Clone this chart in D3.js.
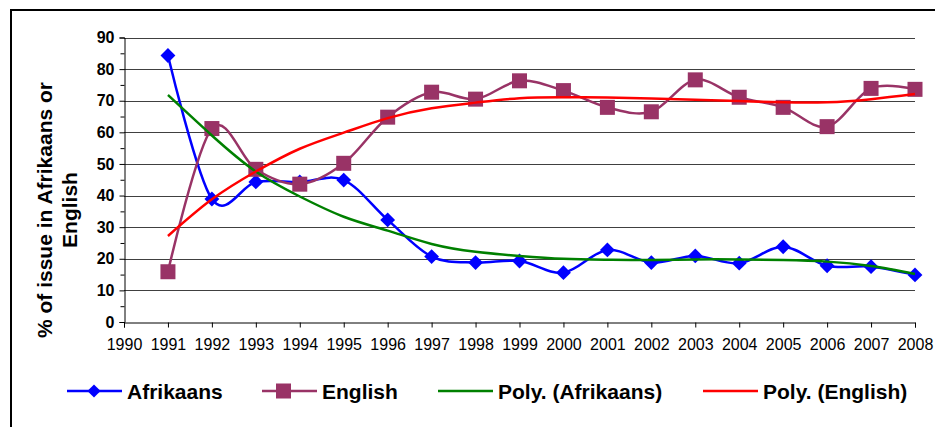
<!DOCTYPE html>
<html>
<head>
<meta charset="utf-8">
<script src="https://cdn.jsdelivr.net/npm/d3@7"></script>
<style>
    html, body { margin: 0; padding: 0; background: #fff; }
    svg { display: block; font-family: "Liberation Sans", Arial, sans-serif; }
</style>
</head>
<body>
<svg id="chart" width="935" height="427"></svg>
<script>
// Data
var years = [1991, 1992, 1993, 1994, 1995, 1996, 1997, 1998, 1999, 2000,
             2001, 2002, 2003, 2004, 2005, 2006, 2007, 2008];
var afrikaans = [84.3, 38.9, 44.3, 44.3, 44.9, 32.3, 20.7, 18.8, 19.3, 15.6,
                 22.8, 18.8, 20.9, 18.6, 23.8, 17.8, 17.5, 14.9];
var english = [15.9, 61.2, 48.3, 43.6, 50.2, 64.8, 72.7, 70.5, 76.3, 73.2,
               67.9, 66.5, 76.6, 71.1, 67.9, 61.8, 73.9, 73.6];
// Polynomial trend lines, read at each year
var afrikaansTrend = [71.8, 59.0, 47.6, 39.7, 33.3, 28.9, 24.7, 22.2, 20.9, 20.0,
                      19.7, 19.6, 19.8, 19.8, 19.6, 19.1, 17.7, 15.2];
var englishTrend = [27.2, 38.8, 47.6, 54.8, 59.9, 64.5, 67.6, 69.4, 70.8, 71.1,
                    71.0, 70.7, 70.3, 69.9, 69.5, 69.5, 70.5, 72.1];
var xTicks = d3.range(1990, 2009);
var yTicks = [0, 10, 20, 30, 40, 50, 60, 70, 80, 90];
var yMinorTicks = [5, 15, 25, 35, 45, 55, 65, 75, 85];
var legendLabels = ["Afrikaans", "English", "Poly. (Afrikaans)", "Poly. (English)"];

window.addEventListener("load", function () {
    drawChart();
});

function drawChart() {
    var svg = d3.select("#chart");

    // outer frame (runs off the right and bottom edges)
    svg.append("rect")
        .attr("x", 11).attr("y", 10)
        .attr("width", 1000).attr("height", 600)
        .attr("fill", "none")
        .attr("stroke", "#000")
        .attr("stroke-width", 2);

    var x = d3.scaleLinear().domain([1990, 2008]).range([124, 915]);
    var y = d3.scaleLinear().domain([0, 90]).range([322, 37.5]);

    // gridlines
    svg.append("g")
        .selectAll("line")
        .data(yTicks.filter(function (d) { return d > 0; }))
        .enter().append("line")
        .attr("x1", x(1990)).attr("x2", x(2008))
        .attr("y1", function (d) { return Math.round(y(d)) + 0.5; })
        .attr("y2", function (d) { return Math.round(y(d)) + 0.5; })
        .attr("stroke", "#404040")
        .attr("stroke-width", 1.2);

    // y axis
    var yAxis = svg.append("g")
        .attr("transform", "translate(124.5,0)")
        .call(d3.axisLeft(y).tickValues(yTicks).tickSize(5).tickPadding(5));
    yAxis.selectAll("text")
        .style("font-size", "16px")
        .style("font-weight", "bold")
        .attr("fill", "#000")
        .style("font-family", "Liberation Sans, Arial, sans-serif");
    svg.append("g")
        .attr("transform", "translate(124.5,0)")
        .call(d3.axisLeft(y).tickValues(yMinorTicks).tickSize(4).tickFormat(""))
        .select(".domain").remove();

    // x axis
    var xAxis = svg.append("g")
        .attr("transform", "translate(0,322.5)")
        .call(d3.axisBottom(x).tickValues(xTicks).tickSize(5).tickPadding(11).tickFormat(d3.format("d")));
    xAxis.selectAll("text")
        .style("font-size", "16px")
        .attr("fill", "#000")
        .style("font-family", "Liberation Sans, Arial, sans-serif");

    svg.selectAll(".domain, .tick line").attr("stroke", "#000");

    // y axis title
    var title = svg.append("text")
        .attr("transform", "translate(52,210) rotate(-90)")
        .attr("text-anchor", "middle")
        .style("font-size", "21px")
        .style("font-weight", "bold");
    title.append("tspan").attr("x", 0).attr("y", 0).text("% of issue in Afrikaans or");
    title.append("tspan").attr("x", 0).attr("y", 25).text("English");

    var smooth = d3.line()
        .x(function (d, i) { return x(years[i]); })
        .y(function (d) { return y(d); })
        .curve(d3.curveCardinal.tension(0));

    var trend = d3.line()
        .x(function (d, i) { return x(years[i]); })
        .y(function (d) { return y(d); })
        .curve(d3.curveNatural);

    var diamond = d3.symbol().type(d3.symbolDiamond2).size(140);

    // Afrikaans series
    svg.append("path")
        .attr("d", smooth(afrikaans))
        .attr("fill", "none")
        .attr("stroke", "#0000ff")
        .attr("stroke-width", 2.5);
    svg.append("g").selectAll("path")
        .data(afrikaans)
        .enter().append("path")
        .attr("d", diamond)
        .attr("transform", function (d, i) { return "translate(" + x(years[i]) + "," + y(d) + ")"; })
        .attr("fill", "#0000ff");

    // English series
    svg.append("path")
        .attr("d", smooth(english))
        .attr("fill", "none")
        .attr("stroke", "#993366")
        .attr("stroke-width", 2.5);
    svg.append("g").selectAll("rect")
        .data(english)
        .enter().append("rect")
        .attr("x", function (d, i) { return x(years[i]) - 7.5; })
        .attr("y", function (d) { return y(d) - 7.5; })
        .attr("width", 15).attr("height", 15)
        .attr("fill", "#993366");

    // trend lines
    svg.append("path")
        .attr("d", trend(afrikaansTrend))
        .attr("fill", "none")
        .attr("stroke", "#008000")
        .attr("stroke-width", 2.5);
    svg.append("path")
        .attr("d", trend(englishTrend))
        .attr("fill", "none")
        .attr("stroke", "#ff0000")
        .attr("stroke-width", 2.5);

    // legend
    var legendX = [67, 262, 438, 703];
    var legendColors = ["#0000ff", "#993366", "#008000", "#ff0000"];
    var legendY = 391;
    var items = svg.append("g").selectAll("g")
        .data(legendLabels)
        .enter().append("g")
        .attr("transform", function (d, i) { return "translate(" + legendX[i] + "," + legendY + ")"; });

    items.append("line")
        .attr("x1", 0).attr("x2", 55)
        .attr("y1", 0).attr("y2", 0)
        .attr("stroke", function (d, i) { return legendColors[i]; })
        .attr("stroke-width", 2.5);

    items.filter(function (d, i) { return i === 0; })
        .append("path")
        .attr("d", d3.symbol().type(d3.symbolDiamond2).size(110))
        .attr("transform", "translate(27,0)")
        .attr("fill", "#0000ff");
    items.filter(function (d, i) { return i === 1; })
        .append("rect")
        .attr("x", 14).attr("y", -7.5)
        .attr("width", 15).attr("height", 15)
        .attr("fill", "#993366");

    items.append("text")
        .attr("x", 60)
        .attr("y", 7.5)
        .style("font-size", "21px")
        .style("font-weight", "bold")
        .text(function (d) { return d; });
}
</script>
</body>
</html>
